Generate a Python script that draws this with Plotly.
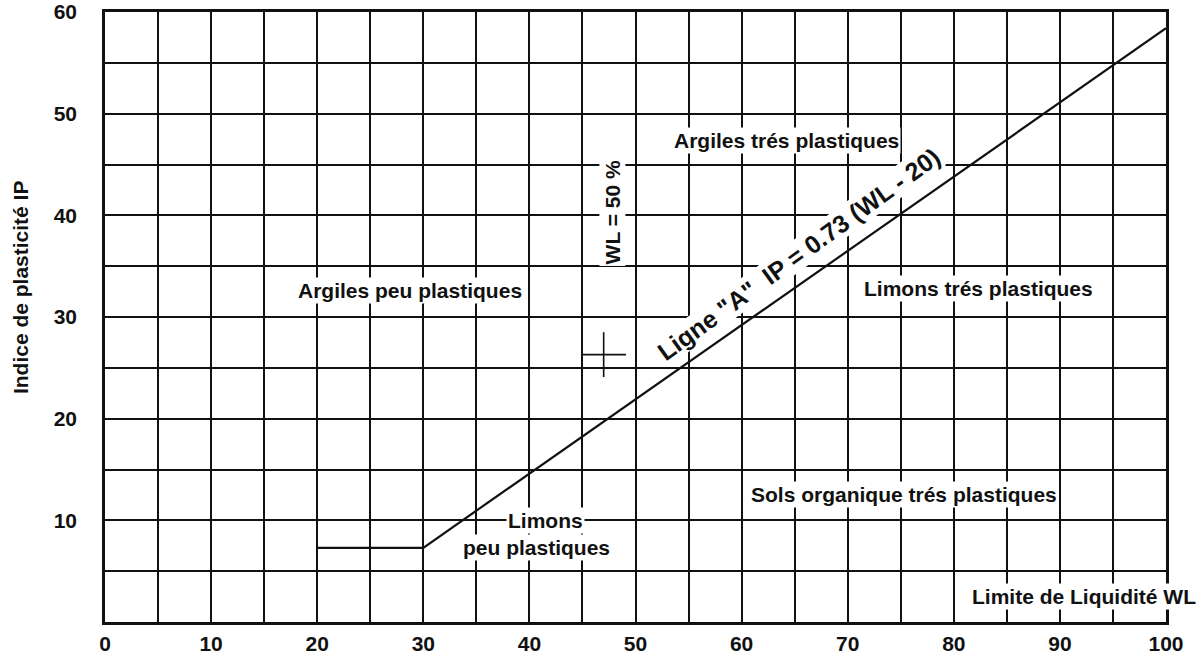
import plotly.graph_objects as go

# Casagrande plasticity chart (abaque de plasticité)
wl_ticks = [0, 10, 20, 30, 40, 50, 60, 70, 80, 90, 100]
ip_ticks = [10, 20, 30, 40, 50, 60]

# Ligne "A": plateau at IP = 7.3 from WL 20 to 30, then IP = 0.73 (WL - 20)
ligne_a_wl = [20, 30, 100]
ligne_a_ip = [7.3, 7.3, 58.4]

# Zone names and where they sit on the chart (WL, IP)
zone_labels = [
    "Argiles peu plastiques",
    "Argiles trés plastiques",
    "Limons trés plastiques",
    "Sols organique trés plastiques",
    "Limons",
    "peu plastiques",
]
zone_wl = [28.7, 64.2, 82.3, 75.3, 41.5, 40.7]
zone_ip = [32.6, 47.4, 32.8, 12.5, 10.0, 7.3]

# Reference cross near WL = 50 %
cross_wl = [47.0]
cross_ip = [26.3]

FONT = "Liberation Sans, Arial, sans-serif"
INK = "#111111"
LABEL_SIZE = 21

fig = go.Figure()

fig.add_trace(go.Scatter(
    x=ligne_a_wl, y=ligne_a_ip, mode="lines",
    line=dict(color=INK, width=2.2), hoverinfo="skip", showlegend=False,
))

fig.add_trace(go.Scatter(
    x=cross_wl, y=cross_ip, mode="markers",
    marker=dict(symbol="cross-thin", size=32, line=dict(color=INK, width=1.6)),
    hoverinfo="skip", showlegend=False,
))

annotations = []
for txt, x, y in zip(zone_labels, zone_wl, zone_ip):
    annotations.append(dict(
        x=x, y=y, xref="x", yref="y", text=txt, showarrow=False,
        xanchor="center", yanchor="middle",
        font=dict(family=FONT, size=LABEL_SIZE, color=INK, weight="bold"),
        bgcolor="white", borderpad=1,
    ))

# Axis label for WL, drawn inside the chart at the bottom right
annotations.append(dict(
    x=0.923, y=2.5, xref="paper", yref="y", xanchor="center",
    text="Limite de Liquidité WL", showarrow=False,
    font=dict(family=FONT, size=LABEL_SIZE, color=INK, weight="bold"),
    bgcolor="white", borderpad=1,
))

# WL = 50 % marker text (vertical)
annotations.append(dict(
    x=47.8, y=40.3, xref="x", yref="y", text="WL = 50 %", textangle=-90,
    showarrow=False, xanchor="center",
    font=dict(family=FONT, size=LABEL_SIZE, color=INK, weight="bold"),
    bgcolor="white", borderpad=1,
))

# Label along Ligne "A"
label_wl = 65.5
annotations.append(dict(
    x=label_wl, y=0.73 * (label_wl - 20), xref="x", yref="y",
    text='Ligne "A"  IP = 0.73 (WL - 20)', textangle=-36,
    showarrow=False, xanchor="center", yanchor="middle",
    xshift=-1, yshift=30,
    font=dict(family=FONT, size=25, color=INK, weight="bold"),
    bgcolor="white", borderpad=0,
))

# Y axis title
annotations.append(dict(
    x=0, y=0.549, xref="paper", yref="paper", xanchor="center", xshift=-85,
    text="Indice de plasticité IP", textangle=-90, showarrow=False,
    font=dict(family=FONT, size=21, color=INK, weight="bold"),
))

axis_common = dict(
    showline=True, linecolor=INK, linewidth=2.5, mirror=True,
    showgrid=True, gridcolor=INK, gridwidth=1.8,
    zeroline=False, ticks="", automargin=False,
    tickfont=dict(family=FONT, size=21, color=INK, weight="bold"),
)

fig.update_layout(
    width=1204, height=658,
    margin=dict(l=105, r=38, t=12, b=36),
    paper_bgcolor="white", plot_bgcolor="white",
    xaxis=dict(range=[0, 100], tickvals=wl_ticks,
               minor=dict(dtick=5, showgrid=True, gridcolor=INK, gridwidth=1.8),
               ticklabelstandoff=1, **axis_common),
    yaxis=dict(range=[0, 60], tickvals=ip_ticks,
               minor=dict(dtick=5, showgrid=True, gridcolor=INK, gridwidth=1.8),
               ticklabelstandoff=21, **axis_common),
    annotations=annotations,
)

fig.write_html("out.html")
